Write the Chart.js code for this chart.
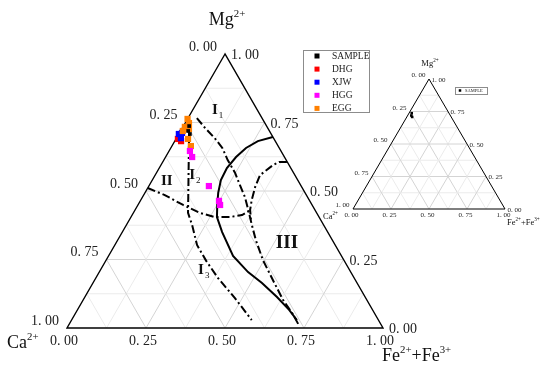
<!DOCTYPE html>
<html>
<head>
<meta charset="utf-8">
<script src="https://cdn.jsdelivr.net/npm/chart.js@4.4.0/dist/chart.umd.min.js"></script>
<style>
    html, body { margin: 0; padding: 0; background: #fff; }
    #wrap { position: relative; width: 550px; height: 367px; }
    #wrap canvas { position: absolute; left: 0; top: 0; }
</style>
</head>
<body>
<div id="wrap">
    <canvas id="mainChart" width="550" height="367"></canvas>
    <canvas id="insetChart" width="550" height="367"></canvas>
</div>
<script>
// Ternary fractions (Ca = 1 - Mg - Fe)
const seriesNames = ['SAMPLE', 'DHG', 'XJW', 'HGG', 'EGG'];

const sampleMg = [0.737, 0.719, 0.708];
const sampleFe = [0.018, 0.024, 0.035];
const dhgMg = [0.690, 0.682];
const dhgFe = [0.006, 0.020];
const xjwMg = [0.708, 0.712, 0.693];
const xjwFe = [0.000, 0.008, 0.014];
const hggMg = [0.646, 0.624, 0.518, 0.464, 0.449];
const hggFe = [0.066, 0.084, 0.190, 0.249, 0.260];
const eggMg = [0.763, 0.748, 0.734, 0.719, 0.726, 0.690, 0.664];
const eggFe = [0.000, 0.012, 0.006, 0.007, 0.023, 0.038, 0.060];

// field boundaries
const solidMg = [0.697, 0.682, 0.657, 0.624, 0.584, 0.540, 0.493, 0.449, 0.405, 0.350, 0.263, 0.204, 0.164, 0.113, 0.066, 0.029];
const solidFe = [0.303, 0.263, 0.238, 0.223, 0.214, 0.217, 0.232, 0.251, 0.272, 0.316, 0.394, 0.471, 0.535, 0.608, 0.670, 0.713];
const outerMg = [0.766, 0.730, 0.693, 0.657, 0.613, 0.566, 0.522, 0.478, 0.431, 0.376, 0.321, 0.248, 0.175, 0.102, 0.051, 0.015];
const outerFe = [0.028, 0.072, 0.121, 0.163, 0.202, 0.249, 0.286, 0.324, 0.358, 0.397, 0.437, 0.496, 0.564, 0.633, 0.689, 0.724];
const innerMg = [0.606, 0.606, 0.595, 0.558, 0.515, 0.467, 0.431, 0.394];
const innerFe = [0.393, 0.368, 0.355, 0.332, 0.338, 0.351, 0.364, 0.385];
const leftMg = [0.511, 0.485, 0.449, 0.420, 0.405, 0.405, 0.412, 0.427];
const leftFe = [0.000, 0.067, 0.143, 0.211, 0.265, 0.313, 0.348, 0.362];
const midMg = [0.723, 0.420, 0.376, 0.303, 0.245, 0.182, 0.109, 0.029];
const midFe = [0.025, 0.173, 0.208, 0.260, 0.318, 0.387, 0.477, 0.570];

const tickValues = [0, 0.25, 0.5, 0.75, 1];
const tickLabels = ['0. 00', '0. 25', '0. 50', '0. 75', '1. 00'];
const gridValues = [0.125, 0.25, 0.375, 0.5, 0.625, 0.75, 0.875];

const colors = { SAMPLE: '#000000', DHG: '#ff0000', XJW: '#0000ff', HGG: '#ff00ff', EGG: '#ff8000' };
const SERIF = '"Liberation Serif", "Times New Roman", serif';

function toXY(mg, fe) {
    return { x: fe + mg / 2, y: mg };
}

function points(mgArr, feArr) {
    return mgArr.map((m, i) => toXY(m, feArr[i]));
}

function pix(chart, mg, fe) {
    const p = toXY(mg, fe);
    return [chart.scales.x.getPixelForValue(p.x), chart.scales.y.getPixelForValue(p.y)];
}

function seg(ctx, a, b) {
    ctx.beginPath();
    ctx.moveTo(a[0], a[1]);
    ctx.lineTo(b[0], b[1]);
    ctx.stroke();
}

// draws text with superscript parts, e.g. [['Mg'], ['2+', true]]
function supText(ctx, parts, x, y, size, align) {
    let w = 0;
    parts.forEach(([t, sup]) => {
        ctx.font = (sup ? size * 0.6 : size) + 'px ' + SERIF;
        w += ctx.measureText(t).width;
    });
    let cx = align === 'center' ? x - w / 2 : x;
    ctx.textAlign = 'left';
    ctx.textBaseline = 'alphabetic';
    parts.forEach(([t, sup]) => {
        ctx.font = (sup ? size * 0.6 : size) + 'px ' + SERIF;
        ctx.fillText(t, cx, sup ? y - size * 0.42 : y);
        cx += ctx.measureText(t).width;
    });
}

const ternaryFrame = {
    id: 'ternaryFrame',
    beforeDatasetsDraw(chart, args, o) {
        const ctx = chart.ctx;
        ctx.save();
        ctx.lineWidth = 1;
        gridValues.forEach(v => {
            ctx.strokeStyle = (v * 4) % 1 === 0 ? '#d4d4d4' : '#ebebeb';
            seg(ctx, pix(chart, v, 0), pix(chart, v, 1 - v));
            seg(ctx, pix(chart, 0, v), pix(chart, 1 - v, v));
            seg(ctx, pix(chart, 0, 1 - v), pix(chart, 1 - v, 0));
        });
        ctx.strokeStyle = '#000';
        ctx.lineWidth = o.edgeWidth;
        ctx.beginPath();
        const a = pix(chart, 1, 0), b = pix(chart, 0, 0), c = pix(chart, 0, 1);
        ctx.moveTo(a[0], a[1]);
        ctx.lineTo(b[0], b[1]);
        ctx.lineTo(c[0], c[1]);
        ctx.closePath();
        ctx.stroke();
        ctx.restore();
    },
    afterDatasetsDraw(chart, args, o) {
        const ctx = chart.ctx;
        const s = chart.chartArea.width / 316;
        ctx.save();
        ctx.fillStyle = '#222';
        ctx.font = o.tickSize + 'px ' + SERIF;
        ctx.textAlign = 'center';
        ctx.textBaseline = 'middle';
        tickValues.forEach((t, i) => {
            // Ca on the left edge
            let p = pix(chart, 1 - t, 0);
            ctx.fillText(tickLabels[i], p[0] - 22 * s, p[1] - 7 * s);
            // Mg on the right edge
            p = pix(chart, t, 1 - t);
            ctx.fillText(tickLabels[i], p[0] + 20 * s, p[1] + 1.5 * s);
            // Fe on the base
            p = pix(chart, 0, t);
            ctx.fillText(tickLabels[i], p[0] - 3 * s, p[1] + 13 * s);
        });

        ctx.fillStyle = '#111';
        const top = pix(chart, 1, 0), left = pix(chart, 0, 0), right = pix(chart, 0, 1);
        supText(ctx, [['Mg'], ['2+', true]], top[0] + 2 * s, top[1] - o.mgGap, o.titleSize, 'center');
        supText(ctx, [['Ca'], ['2+', true]], left[0] + o.caDx, left[1] + o.caDy, o.titleSize, 'left');
        supText(ctx, [['Fe'], ['2+', true], ['+Fe'], ['3+', true]], right[0] + o.feDx, right[1] + o.feDy, o.titleSize, 'left');

        // field names
        (o.regions || []).forEach(r => {
            const p = pix(chart, r.mg, r.fe);
            ctx.font = 'bold ' + r.size + 'px ' + SERIF;
            ctx.textAlign = 'center';
            ctx.textBaseline = 'middle';
            ctx.fillText(r.text, p[0], p[1]);
            if (r.sub) {
                const w = ctx.measureText(r.text).width;
                ctx.font = (r.size * 0.6) + 'px ' + SERIF;
                ctx.textAlign = 'left';
                ctx.fillText(r.sub, p[0] + w / 2 + 1, p[1] + r.size * 0.35);
            }
        });

        // legend box
        const lg = o.legend;
        ctx.strokeStyle = '#8c8c8c';
        ctx.lineWidth = 1;
        ctx.fillStyle = '#fff';
        ctx.fillRect(lg.x, lg.y, lg.w, lg.h);
        ctx.strokeRect(lg.x + 0.5, lg.y + 0.5, lg.w, lg.h);
        lg.names.forEach((n, i) => {
            const y = lg.y + lg.first + i * lg.step;
            ctx.fillStyle = colors[n];
            ctx.fillRect(lg.x + lg.mark - lg.box / 2, y - lg.box / 2, lg.box, lg.box);
            ctx.fillStyle = '#222';
            ctx.font = lg.font + 'px ' + SERIF;
            ctx.textAlign = 'left';
            ctx.textBaseline = 'middle';
            ctx.fillText(n, lg.x + lg.text, y + 0.5);
        });
        ctx.restore();
    }
};

function scatterSet(name, mg, fe, r) {
    return {
        label: name,
        data: points(mg, fe),
        pointStyle: 'rect',
        pointRadius: r,
        backgroundColor: colors[name],
        borderColor: colors[name],
        borderWidth: 0,
        clip: false,
    };
}

function boundarySet(mg, fe, dashed) {
    return {
        data: points(mg, fe),
        showLine: true,
        borderColor: '#000',
        borderWidth: 2,
        borderDash: dashed ? [8, 3, 2, 3] : [],
        pointRadius: 0,
        clip: false,
    };
}

function makeChart(id, datasets, pad, frame) {
    return new Chart(document.getElementById(id), {
        type: 'scatter',
        data: { datasets: datasets },
        options: {
            responsive: false,
            animation: false,
            events: [],
            layout: { padding: pad },
            scales: {
                x: { type: 'linear', min: 0, max: 1, display: false },
                y: { type: 'linear', min: 0, max: 1, display: false },
            },
            plugins: {
                legend: { display: false },
                tooltip: { enabled: false },
                ternaryFrame: frame,
            },
        },
        plugins: [ternaryFrame],
    });
}

// main diagram (first dataset is drawn on top)
makeChart('mainChart', [
    scatterSet('SAMPLE', sampleMg, sampleFe, 2.6),
    scatterSet('HGG', hggMg, hggFe, 4.4),
    scatterSet('EGG', eggMg, eggFe, 4.4),
    scatterSet('XJW', xjwMg, xjwFe, 4.4),
    scatterSet('DHG', dhgMg, dhgFe, 4.4),
    boundarySet(solidMg, solidFe, false),
    boundarySet(outerMg, outerFe, true),
    boundarySet(innerMg, innerFe, true),
    boundarySet(leftMg, leftFe, true),
    boundarySet(midMg, midFe, true),
], { left: 67, right: 167, top: 54, bottom: 39 }, {
    edgeWidth: 1.4,
    tickSize: 14,
    titleSize: 18,
    mgGap: 29,
    caDx: -60, caDy: 20,
    feDx: -1, feDy: 33,
    regions: [
        { text: 'I', sub: '1', mg: 0.796, fe: 0.070, size: 15 },
        { text: 'I', sub: '2', mg: 0.558, fe: 0.117, size: 15 },
        { text: 'I', sub: '3', mg: 0.212, fe: 0.318, size: 15 },
        { text: 'II', sub: '', mg: 0.536, fe: 0.048, size: 15 },
        { text: 'III', sub: '', mg: 0.310, fe: 0.541, size: 19 },
    ],
    legend: { x: 303, y: 50, w: 66, h: 62, names: seriesNames, first: 6, step: 13.1, mark: 14, box: 5, text: 29, font: 9.5 },
});

// small overview diagram with the samples only
makeChart('insetChart', [
    scatterSet('SAMPLE', sampleMg, sampleFe, 1.8),
], { left: 353, right: 45, top: 79, bottom: 158 }, {
    edgeWidth: 1,
    tickSize: 7,
    titleSize: 8.5,
    mgGap: 13,
    caDx: -30, caDy: 10,
    feDx: 2, feDy: 16,
    regions: [],
    legend: { x: 455, y: 87, w: 32, h: 7, names: ['SAMPLE'], first: 3.5, step: 0, mark: 5, box: 2.5, text: 10, font: 4.5 },
});
</script>
</body>
</html>
